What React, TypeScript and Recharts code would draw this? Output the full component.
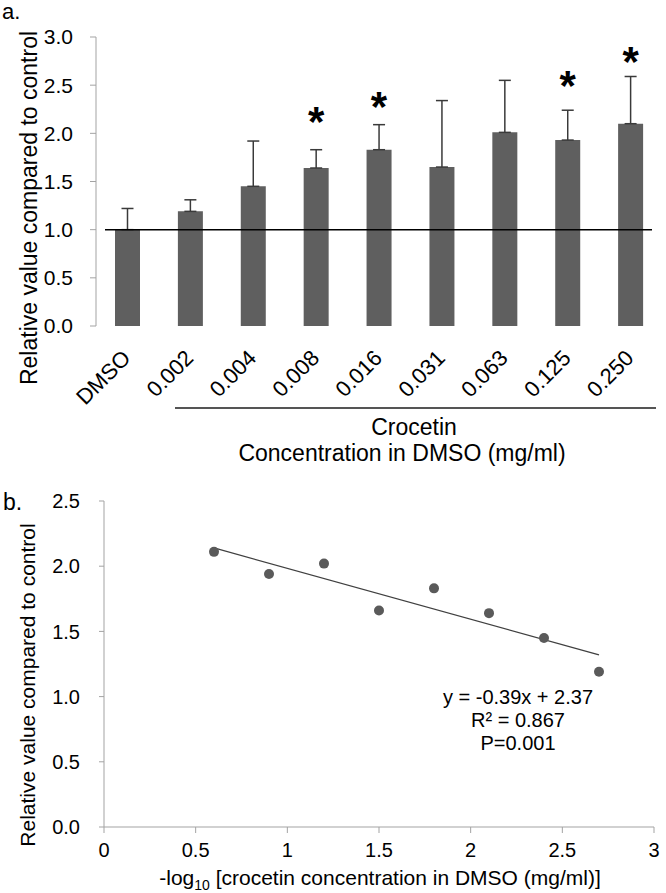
import React from 'react'
import { ComposedChart, ScatterChart, Bar, Scatter, XAxis, YAxis, ErrorBar, ReferenceLine } from 'recharts'

// panel a: bars per concentration
const concentrations = ['DMSO', '0.002', '0.004', '0.008', '0.016', '0.031', '0.063', '0.125', '0.250']
const relativeValues = [1.0, 1.19, 1.45, 1.64, 1.83, 1.65, 2.01, 1.93, 2.1]
const upperErrors = [0.22, 0.12, 0.47, 0.19, 0.26, 0.69, 0.54, 0.31, 0.49]
const starLevels = [null, null, null, 2.21, 2.37, null, null, 2.58, 2.83]
const barTicks = [0, 0.5, 1, 1.5, 2, 2.5, 3]
const edgeTicks = [0, 1, 2, 3, 4, 5, 6, 7, 8, 9]

// panel b: -log10 concentration vs value
const logConc = [0.6, 0.9, 1.2, 1.5, 1.8, 2.1, 2.4, 2.7]
const logValues = [2.11, 1.94, 2.02, 1.66, 1.83, 1.64, 1.45, 1.19]
const trendX = [0.6, 2.7]
const trendY = [2.14, 1.32]
const logTicks = [0, 0.5, 1, 1.5, 2, 2.5, 3]
const valueTicks = [0, 0.5, 1, 1.5, 2, 2.5]

const FONT = '"Liberation Sans", Arial, sans-serif'
const AXIS = '#a3a3a3'

const barData = concentrations.map((name, i) => ({
  name,
  value: relativeValues[i],
  err: [0, upperErrors[i]],
  star: starLevels[i],
}))

const scatterData = logConc.map((x, i) => ({ x, y: logValues[i] }))

const RotatedTick = (props: any) => {
  const { x, y, payload } = props
  const ax = x - 1
  const ay = y + 28
  return (
    <text x={ax} y={ay} transform={`rotate(-45, ${ax}, ${ay})`} textAnchor="end" dy="0.35em" fontSize={22} fill="#000">
      {payload.value}
    </text>
  )
}

const Star = (props: any) => {
  const { cx, cy } = props
  if (cx == null || cy == null || isNaN(cy)) return null
  return (
    <text x={cx} y={cy + 23} textAnchor="middle" fontSize={42} fontWeight="bold" fill="#000">
      *
    </text>
  )
}

const Dot = (props: any) => <circle cx={props.cx} cy={props.cy} r={5} fill="#5a5a5a" />

export default function App() {
  return (
    <div style={{ position: 'absolute', left: 0, top: 0, width: 666, height: 893, background: '#fff', fontFamily: FONT }}>
      <div style={{ position: 'absolute', left: 0, top: 0 }}>
        <ComposedChart width={666} height={430} data={barData} margin={{ top: 37, right: 4, bottom: 4, left: 0 }}>
          <XAxis xAxisId="edge" type="number" domain={[0, 9]} ticks={edgeTicks} allowDataOverflow tick={false} tickSize={7} tickLine={{ stroke: AXIS }} axisLine={{ stroke: AXIS }} height={0} />
          <XAxis dataKey="name" interval={0} axisLine={false} tickLine={false} tickSize={0} tickMargin={0} height={100} tick={<RotatedTick />} />
          <YAxis domain={[0, 3]} ticks={barTicks} tickFormatter={(v: number) => v.toFixed(1)} width={96} tickSize={6} tickMargin={17} axisLine={{ stroke: AXIS }} tickLine={{ stroke: AXIS }} tick={{ fontSize: 21, fill: '#000' }} />
          <Bar dataKey="value" fill="#5f5f5f" barSize={25} isAnimationActive={false}>
            <ErrorBar dataKey="err" direction="y" width={6} stroke="#3a3a3a" strokeWidth={1.5} />
          </Bar>
          <ReferenceLine
            y={1}
            stroke="#000"
            strokeWidth={1.5}
            shape={(p: any) => <line x1={p.x1 + 9} x2={p.x2 - 10} y1={p.y1} y2={p.y2} stroke="#000" strokeWidth={1.5} />}
          />
          <Scatter dataKey="star" shape={<Star />} isAnimationActive={false} />
        </ComposedChart>
      </div>

      <div style={{ position: 'absolute', left: 0, top: 460 }}>
        <ScatterChart width={666} height={433} margin={{ top: 41, right: 12, bottom: 6, left: 0 }}>
          <XAxis type="number" dataKey="x" domain={[0, 3]} ticks={logTicks} height={60} tickSize={6} tickMargin={10} axisLine={{ stroke: AXIS }} tickLine={{ stroke: AXIS }} tick={{ fontSize: 20, fill: '#000' }} />
          <YAxis type="number" dataKey="y" domain={[0, 2.5]} ticks={valueTicks} tickFormatter={(v: number) => v.toFixed(1)} width={104} tickSize={5} tickMargin={19} axisLine={{ stroke: AXIS }} tickLine={{ stroke: AXIS }} tick={{ fontSize: 20, fill: '#000' }} />
          <ReferenceLine segment={[{ x: trendX[0], y: trendY[0] }, { x: trendX[1], y: trendY[1] }]} stroke="#404040" strokeWidth={1.3} />
          <Scatter data={scatterData} shape={<Dot />} isAnimationActive={false} />
        </ScatterChart>
      </div>

      <svg width={666} height={893} style={{ position: 'absolute', left: 0, top: 0, pointerEvents: 'none' }}>
        <text x={2} y={19} fontSize={22}>a.</text>
        <text x={37} y={208} fontSize={23} textAnchor="middle" transform="rotate(-90, 37, 208)">
          Relative value compared to control
        </text>
        <line x1={175} x2={656} y1={408} y2={408} stroke="#555" strokeWidth={2} />
        <text x={414} y={435} fontSize={23} textAnchor="middle">Crocetin</text>
        <text x={402} y={461} fontSize={23} textAnchor="middle">Concentration in DMSO (mg/ml)</text>

        <text x={3} y={510} fontSize={23}>b.</text>
        <text x={35} y={685} fontSize={21} textAnchor="middle" transform="rotate(-90, 35, 685)">
          Relative value compared to control
        </text>
        <text x={380} y={885} fontSize={21} textAnchor="middle">
          -log<tspan fontSize={14} dy={5}>10</tspan>
          <tspan dy={-5}> [crocetin concentration in DMSO (mg/ml)]</tspan>
        </text>
        <text x={518} y={704} fontSize={20} textAnchor="middle">y = -0.39x + 2.37</text>
        <text x={518} y={727} fontSize={20} textAnchor="middle">R² = 0.867</text>
        <text x={518} y={750} fontSize={20} textAnchor="middle">P=0.001</text>
      </svg>
    </div>
  )
}
